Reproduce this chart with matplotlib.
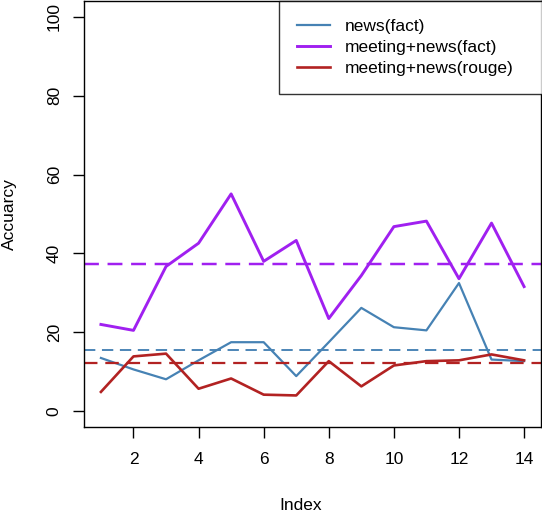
#!/usr/bin/env python3
import numpy as np
import matplotlib
matplotlib.use('Agg')
import matplotlib.pyplot as plt

plt.rcParams['font.family'] = ['Liberation Sans', 'DejaVu Sans']

# data
index = np.arange(1, 15)
news_fact = [13.5, 10.6, 8.1, 12.9, 17.5, 17.5, 8.9, 17.5, 26.2, 21.3, 20.5, 32.5, 13.1, 12.7]
meet_fact = [22.0, 20.5, 36.7, 42.6, 55.1, 38.0, 43.3, 23.5, 34.4, 46.8, 48.2, 33.6, 47.7, 31.6]
meet_rouge = [4.9, 13.9, 14.6, 5.7, 8.3, 4.2, 4.0, 12.7, 6.3, 11.6, 12.7, 12.9, 14.4, 12.9]
labels = ['news(fact)', 'meeting+news(fact)', 'meeting+news(rouge)']
colors = ['#4682B4', '#A020F0', '#B22222']
widths = [1.6, 2.1, 1.9]

W, H = 542, 514
fs = 12.5
fig = plt.figure(figsize=(W/100, H/100), dpi=100)
# plot box in pixels: left 84, right 541, top 0, bottom 427
ax = fig.add_axes([84/W, (H-427)/H, (541-84)/W, 427/H - 0.002])

series = [news_fact, meet_fact, meet_rouge]
for s, c, lw, lab in zip(series, colors, widths, labels):
	ax.plot(index, s, color=c, lw=lw, label=lab)
	# dashed reference line at the median of each series
	ax.axhline(np.median(s), color=c, lw=lw*0.85, dashes=(6, 3.5))

# R style axis limits (4% extension)
ax.set_xlim(1 - 0.04*13, 14 + 0.04*13)
ax.set_ylim(-4, 104)
ax.set_xticks(np.arange(2, 15, 2))
ax.set_yticks(np.arange(0, 101, 20))
ax.tick_params(direction='out', length=8, width=1, labelsize=fs, pad=10, color='black')
ax.tick_params(axis='y', pad=8)
for t in ax.get_yticklabels():
	t.set_rotation(90)
	t.set_va('center')
for sp in ax.spines.values():
	sp.set_linewidth(1)

ax.set_xlabel('Index', fontsize=fs)
ax.xaxis.set_label_coords((301-84)/457, (427-506)/427)
ax.xaxis.label.set_va('center')
ax.set_ylabel('Accuarcy', fontsize=fs)
ax.yaxis.set_label_coords((9-84)/457, 0.5)
ax.yaxis.label.set_va('center')

leg = ax.legend(loc='upper left', bbox_to_anchor=((279-84)/457, 1.0, 0.6, 0), mode='expand',
	fontsize=fs, frameon=True, fancybox=False, edgecolor='black', borderpad=1.05,
	handlelength=1.9, handletextpad=0.85, labelspacing=0.32, borderaxespad=0)
leg.get_frame().set_linewidth(1)

fig.savefig('out.png', dpi=100)
